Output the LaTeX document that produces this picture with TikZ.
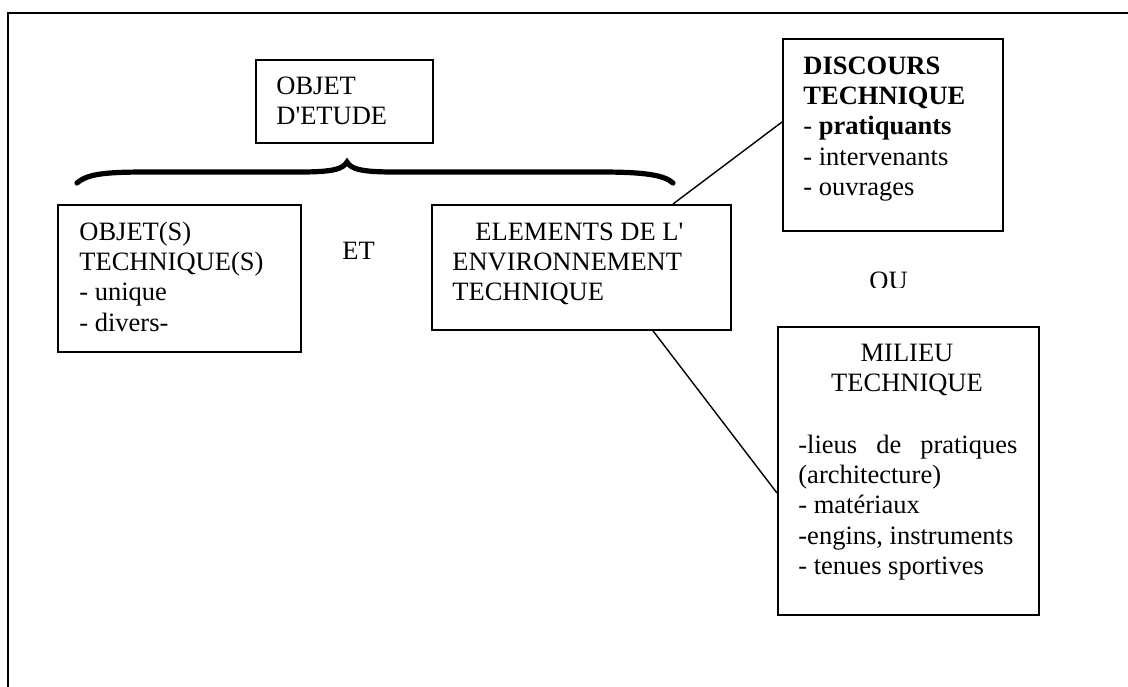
\documentclass[tikz,border=0pt]{standalone}
\usepackage{fontspec}
\setmainfont{Liberation Serif}[Ligatures=TeXOff]
\usetikzlibrary{calc}
\newcommand\tlines[1]{\parbox[t]{200pt}{\raggedright #1}}
\begin{document}
\begin{tikzpicture}[x=0.5pt,y=-0.5pt,
  font=\fontsize{13.25pt}{15.2pt}\selectfont,
  boxnode/.style={draw,line width=0.9pt,inner sep=0pt,anchor=north west},
  txt/.style={inner sep=0pt,anchor=base west},
  link/.style={line width=0.7pt},
  frameline/.style={line width=1.2pt},
  bracestyle/.style={line width=2.6pt,line cap=round,line join=miter}]
\useasboundingbox (0,0) rectangle (1128,686);
% outer frame
\draw[frameline] (8,700) -- (8,13) -- (1140,13);
% boxes
\node[boxnode,minimum width=88.5pt,minimum height=41.5pt] (etude) at (255,59) {};
\node[boxnode,minimum width=121.5pt,minimum height=73.5pt] (objets) at (57,204) {};
\node[boxnode,minimum width=149.5pt,minimum height=62.5pt] (elem) at (431,204) {};
\node[boxnode,minimum width=110pt,minimum height=96pt] (disc) at (782,38) {};
\node[boxnode,minimum width=130.5pt,minimum height=144pt] (milieu) at (777,326) {};
% texts
\node[txt] (tetude) at (276,94) {\tlines{OBJET\\D'ETUDE}};
\node[txt] (tobjets) at (79,240) {\tlines{OBJET(S)\\TECHNIQUE(S)\\- unique\\- divers-}};
\node[txt] (et) at (342,259) {ET};
\node[txt] (telem) at (452,240) {\tlines{\hspace*{11.5pt}ELEMENTS DE L'\\ENVIRONNEMENT\\TECHNIQUE}};
\node[txt] (tdisc) at (803,74) {\tlines{\textbf{DISCOURS}\\\textbf{TECHNIQUE}\\- \textbf{pratiquants}\\- intervenants\\- ouvrages}};
\begin{scope}
\clip (850,250) rectangle (930,287.5);
\node[txt] (ou) at (869,289) {OU};
\end{scope}
\node[inner sep=0pt,anchor=base] (tmil) at (907,361) {\parbox[t]{130pt}{\centering MILIEU\\TECHNIQUE}};
\node[txt] (tmillist) at (798,453) {\tlines{\makebox[109.5pt][s]{-lieus de pratiques}\\(architecture)\\- matériaux\\-engins, instruments\\- tenues sportives}};
% brace
\draw[bracestyle] (77,183) .. controls (88,173) and (110,172) .. (150,172)
  -- (300,172) .. controls (333,172) and (343,169) .. (347,162)
  .. controls (351,169) and (361,172) .. (394,172)
  -- (600,172) .. controls (645,172) and (664,175) .. (673,183);
% connectors
\draw[link] ($(elem.north west)+(242,0)$) -- ($(disc.north west)+(0,84)$);
\draw[link] ($(elem.south west)+(222,0)$) -- ($(milieu.north west)+(0,167)$);
\end{tikzpicture}
\end{document}
